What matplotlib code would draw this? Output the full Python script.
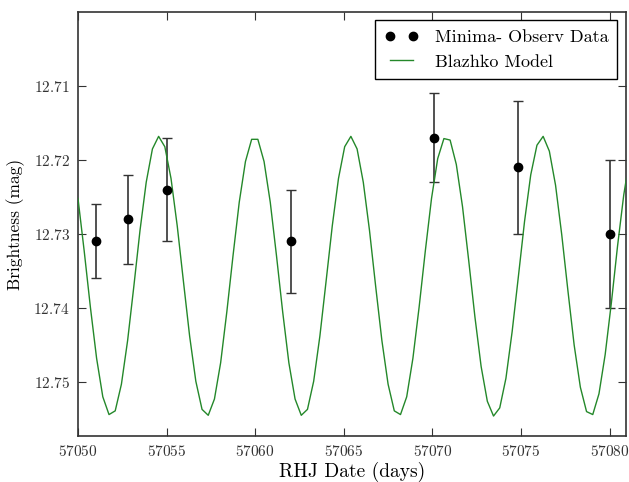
import matplotlib
matplotlib.use('Agg')
import matplotlib.pyplot as plt

plt.rcParams['font.family'] = ['cmr10', 'DejaVu Serif']
plt.rcParams['mathtext.fontset'] = 'cm'
plt.rcParams['axes.formatter.use_mathtext'] = True

# observed minima with uncertainties
obs_date = [57051.0, 57052.8, 57055.0, 57062.0, 57070.1, 57074.85, 57080.0]
obs_mag = [12.731, 12.728, 12.724, 12.731, 12.717, 12.721, 12.730]
obs_err = [0.005, 0.006, 0.007, 0.007, 0.006, 0.009, 0.010]

# Blazhko model curve
model_date = [
    57050.00, 57050.35, 57050.70, 57051.05, 57051.40, 57051.75, 57052.10, 57052.45,
    57052.80, 57053.15, 57053.50, 57053.85, 57054.20, 57054.55, 57054.90, 57055.25,
    57055.60, 57055.95, 57056.30, 57056.65, 57057.00, 57057.35, 57057.70, 57058.05,
    57058.40, 57058.75, 57059.10, 57059.45, 57059.80, 57060.15, 57060.50, 57060.85,
    57061.20, 57061.55, 57061.90, 57062.25, 57062.60, 57062.95, 57063.30, 57063.65,
    57064.00, 57064.35, 57064.70, 57065.05, 57065.40, 57065.75, 57066.10, 57066.45,
    57066.80, 57067.15, 57067.50, 57067.85, 57068.20, 57068.55, 57068.90, 57069.25,
    57069.60, 57069.95, 57070.30, 57070.65, 57071.00, 57071.35, 57071.70, 57072.05,
    57072.40, 57072.75, 57073.10, 57073.45, 57073.80, 57074.15, 57074.50, 57074.85,
    57075.20, 57075.55, 57075.90, 57076.25, 57076.60, 57076.95, 57077.30, 57077.65,
    57078.00, 57078.35, 57078.70, 57079.05, 57079.40, 57079.75, 57080.10, 57080.45,
    57080.80, 57081.15,
]
model_mag = [
    12.7252, 12.7323, 12.7399, 12.7468, 12.7520, 12.7544, 12.7539, 12.7503,
    12.7444, 12.7371, 12.7295, 12.7230, 12.7185, 12.7168, 12.7182, 12.7225,
    12.7289, 12.7364, 12.7438, 12.7499, 12.7537, 12.7545, 12.7523, 12.7474,
    12.7405, 12.7329, 12.7257, 12.7202, 12.7172, 12.7172, 12.7202, 12.7257,
    12.7329, 12.7405, 12.7474, 12.7523, 12.7545, 12.7537, 12.7499, 12.7438,
    12.7364, 12.7289, 12.7225, 12.7182, 12.7168, 12.7185, 12.7230, 12.7295,
    12.7371, 12.7444, 12.7503, 12.7539, 12.7544, 12.7520, 12.7468, 12.7399,
    12.7323, 12.7252, 12.7198, 12.7171, 12.7173, 12.7206, 12.7263, 12.7336,
    12.7412, 12.7479, 12.7526, 12.7546, 12.7535, 12.7495, 12.7432, 12.7358,
    12.7283, 12.7220, 12.7180, 12.7168, 12.7188, 12.7234, 12.7301, 12.7377,
    12.7450, 12.7507, 12.7540, 12.7544, 12.7516, 12.7463, 12.7393, 12.7316,
    12.7247, 12.7195,
]

fig = plt.figure(figsize=(6.29, 4.82), dpi=100)
ax = fig.add_axes([0.124, 0.0954, 0.8705, 0.8796])

# error bars drawn separately so the legend only shows the dots
ax.errorbar(obs_date, obs_mag, yerr=obs_err, fmt='none',
            ecolor='#333333', elinewidth=1.2, capsize=3.5, capthick=1, zorder=2)
ax.plot(obs_date, obs_mag, 'o', color='black', markersize=6, zorder=4,
        label='Minima- Observ Data')
ax.plot(model_date, model_mag, color='#24882a', lw=1.0, zorder=3,
        label='Blazhko Model')

ax.set_xlim(57050, 57080.9)
ax.set_ylim(12.7573, 12.700)
ax.set_xticks([57050, 57055, 57060, 57065, 57070, 57075, 57080])
ax.set_yticks([12.71, 12.72, 12.73, 12.74, 12.75])
ax.ticklabel_format(useOffset=False)
ax.tick_params(direction='in', length=6, width=0.8, top=True, right=True,
               labelsize=11, colors='#333333', labelcolor='#333333', pad=6)
for s in ax.spines.values():
    s.set_color('#333333')
    s.set_linewidth(1.2)

ax.set_xlabel('RHJ Date (days)', fontsize=14, labelpad=2)
ax.set_ylabel('Brightness (mag)', fontsize=12.5, labelpad=6)

leg = ax.legend(loc='upper right', numpoints=2, fontsize=13, fancybox=False,
                framealpha=1, edgecolor='black', borderaxespad=0.45,
                handlelength=1.9, handletextpad=0.9, borderpad=0.5,
                labelspacing=0.5)
leg.get_frame().set_linewidth(1.0)

fig.savefig('out.png', dpi=100)
